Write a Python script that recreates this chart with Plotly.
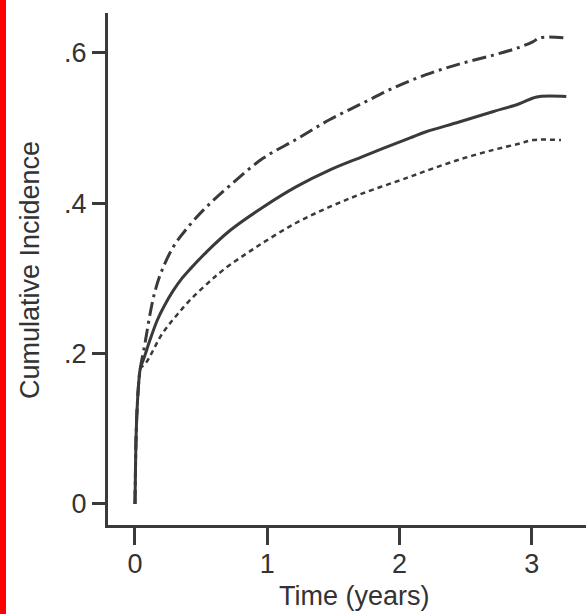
import plotly.graph_objects as go

# Data
t_upper = [0, 0.005, 0.01, 0.02, 0.03, 0.04, 0.076, 0.113, 0.15, 0.20, 0.29, 0.40, 0.54, 0.74, 0.97, 1.22, 1.47, 1.72, 1.95, 2.20, 2.45, 2.71, 2.90, 3.01, 3.06, 3.24]
ci_upper = [0, 0.06, 0.10, 0.14, 0.165, 0.18, 0.214, 0.252, 0.282, 0.309, 0.342, 0.368, 0.395, 0.427, 0.46, 0.485, 0.511, 0.533, 0.553, 0.571, 0.585, 0.597, 0.607, 0.615, 0.62, 0.62]

t_mid = [0, 0.005, 0.01, 0.02, 0.03, 0.04, 0.07, 0.113, 0.17, 0.22, 0.29, 0.355, 0.42, 0.54, 0.72, 0.97, 1.22, 1.47, 1.72, 2.08, 2.20, 2.45, 2.71, 2.90, 3.01, 3.06, 3.26]
ci_mid = [0, 0.06, 0.10, 0.14, 0.165, 0.18, 0.195, 0.218, 0.245, 0.263, 0.284, 0.300, 0.313, 0.335, 0.364, 0.395, 0.422, 0.444, 0.462, 0.487, 0.495, 0.508, 0.522, 0.532, 0.54, 0.542, 0.542]

t_lower = [0, 0.005, 0.01, 0.02, 0.03, 0.04, 0.08, 0.13, 0.19, 0.25, 0.32, 0.415, 0.54, 0.665, 0.92, 1.22, 1.47, 1.72, 2.06, 2.20, 2.45, 2.71, 2.90, 3.01, 3.22]
ci_lower = [0, 0.06, 0.10, 0.14, 0.165, 0.18, 0.187, 0.202, 0.222, 0.237, 0.252, 0.271, 0.292, 0.311, 0.342, 0.374, 0.395, 0.413, 0.434, 0.443, 0.458, 0.471, 0.479, 0.484, 0.484]

x_ticks = [0, 1, 2, 3]
x_tick_labels = ["0", "1", "2", "3"]
y_ticks = [0, 0.2, 0.4, 0.6]
y_tick_labels = ["0", ".2", ".4", ".6"]

LINE = "#3a3a3a"
TEXT = "#333333"
FONT = "Liberation Sans, Arial, sans-serif"

fig = go.Figure()
fig.add_trace(go.Scatter(x=t_upper, y=ci_upper, mode="lines",
                         line=dict(color=LINE, width=3, dash="14px,5px,3px,5px", shape="spline", smoothing=1)))
fig.add_trace(go.Scatter(x=t_mid, y=ci_mid, mode="lines",
                         line=dict(color=LINE, width=3, shape="spline", smoothing=1)))
fig.add_trace(go.Scatter(x=t_lower, y=ci_lower, mode="lines",
                         line=dict(color=LINE, width=2.5, dash="5px,4px", shape="spline", smoothing=1)))

W, H = 586, 614
L, R, T, B = 108, 0, 13, 89
pw, ph = W - L - R, H - T - B

fig.update_layout(
    width=W, height=H,
    margin=dict(l=L, r=R, t=T, b=B, pad=0),
    paper_bgcolor="white", plot_bgcolor="white",
    showlegend=False,
    font=dict(family=FONT, size=27, color=TEXT),
    xaxis=dict(range=[-0.204, 3.409], tickvals=x_ticks, ticktext=x_tick_labels,
               showline=True, linecolor=LINE, linewidth=3, showgrid=False, zeroline=False,
               ticks="outside", ticklen=17, tickwidth=3, tickcolor=LINE,
               tickfont=dict(size=27, color=TEXT), ticklabelstandoff=-4),
    yaxis=dict(range=[-0.028, 0.653], tickvals=y_ticks, ticktext=y_tick_labels,
               showline=True, linecolor=LINE, linewidth=3, showgrid=False, zeroline=False,
               ticks="outside", ticklen=13, tickwidth=3, tickcolor=LINE,
               tickfont=dict(size=27, color=TEXT), ticklabelstandoff=0),
    shapes=[dict(type="rect", xref="paper", yref="paper",
                 x0=-L / pw, x1=(6 - L) / pw, y0=-B / ph, y1=1 + T / ph,
                 fillcolor="#ff0000", line=dict(width=0), layer="above")],
    annotations=[
        dict(text="Time (years)", xref="paper", yref="paper",
             x=(354 - L) / pw, y=-(596 - (T + ph)) / ph, xanchor="center", yanchor="middle",
             showarrow=False, font=dict(size=27, color=TEXT)),
        dict(text="Cumulative Incidence", xref="paper", yref="paper",
             x=(30 - L) / pw, y=1 - (270 - T) / ph, xanchor="center", yanchor="middle",
             textangle=-90, showarrow=False, font=dict(size=27, color=TEXT)),
    ],
)

fig.write_html("out.html", config={"displayModeBar": False},
               post_script="document.body.style.margin='0';document.body.style.overflow='hidden';")
